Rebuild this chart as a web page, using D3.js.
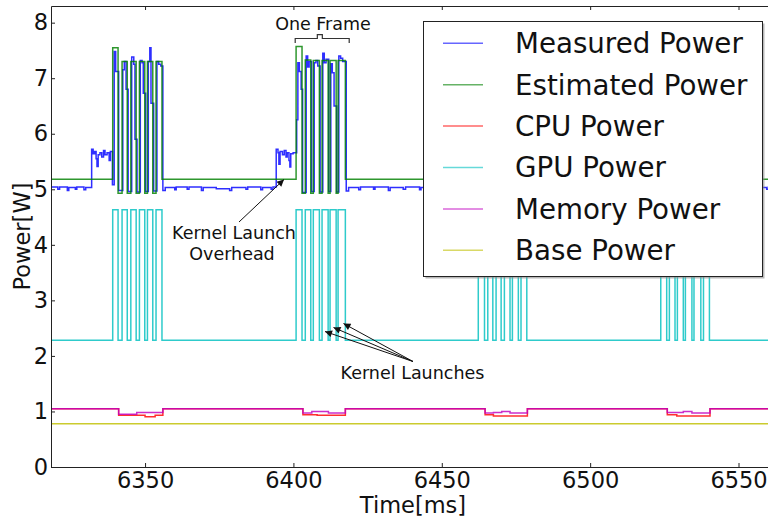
<!DOCTYPE html>
<html>
<head>
<meta charset="utf-8">
<script src="https://cdn.jsdelivr.net/npm/d3@7"></script>
<style>
  body { margin: 0; background: #fff; }
  svg { display: block; font-family: "DejaVu Sans", sans-serif; }
</style>
</head>
<body>
<div id="chart"></div>
<script>
// power trace, time in ms, power in W (step series: [time, value])
const xTicks = [6350, 6400, 6450, 6500, 6550]
const yTicks = [0, 1, 2, 3, 4, 5, 6, 7, 8]
const tStart = 6318.3
const tEnd = 6562.3

const measuredPower = [
  [6318.3, 5.04], [6320.6, 5.00], [6321.2, 5.04], [6323.8, 4.98], [6324.3, 5.03], [6326.5, 5.00],
  [6327.0, 5.04], [6329.4, 4.99], [6330.0, 5.03],
  [6332.0, 5.72], [6332.5, 5.64], [6333.0, 5.68], [6333.5, 5.55], [6333.8, 5.41], [6334.2, 5.62],
  [6334.8, 5.66], [6335.4, 5.58], [6336.0, 5.70], [6336.5, 5.62], [6337.2, 5.66], [6337.9, 5.52],
  [6338.3, 5.68], [6339.0, 5.08], [6339.6, 7.48], [6340.1, 7.12], [6341.1, 4.98],
  [6342.5, 7.15], [6343.0, 7.30], [6343.6, 6.80], [6344.3, 4.96],
  [6345.5, 7.38], [6346.2, 7.25], [6346.6, 5.90], [6347.3, 4.95],
  [6348.4, 7.32], [6349.0, 7.28], [6349.4, 6.73], [6350.2, 4.96],
  [6351.1, 7.30], [6351.6, 7.55], [6352.0, 6.55], [6352.9, 4.97],
  [6354.0, 7.30], [6354.6, 7.25], [6355.3, 7.22], [6356.0, 4.98],
  [6356.8, 5.03], [6360.0, 4.99], [6360.5, 5.04], [6364.2, 5.00], [6364.8, 5.04], [6369.0, 4.98],
  [6369.6, 5.03], [6374.0, 5.01], [6378.5, 4.98], [6379.2, 5.03], [6384.0, 5.00], [6384.6, 5.04],
  [6389.0, 4.99], [6389.6, 5.03], [6392.5, 5.00], [6393.1, 5.04],
  [6394.2, 5.72], [6394.8, 5.66], [6395.1, 5.45], [6395.5, 5.68], [6396.3, 5.62], [6396.9, 5.70],
  [6397.5, 5.58], [6397.9, 5.66], [6398.5, 5.52], [6398.8, 5.40], [6399.1, 5.64], [6399.9, 5.66],
  [6401.1, 6.25], [6401.5, 7.28], [6402.0, 7.12], [6402.6, 6.80], [6403.1, 4.94],
  [6404.3, 7.40], [6404.8, 7.20], [6405.3, 7.30], [6406.1, 4.96],
  [6407.0, 7.28], [6407.6, 7.32], [6408.2, 7.22], [6409.0, 4.95],
  [6409.9, 7.45], [6410.4, 7.28], [6411.0, 7.34], [6411.9, 4.96],
  [6412.6, 7.26], [6413.1, 7.10], [6413.7, 6.50], [6414.6, 4.95],
  [6415.3, 7.40], [6415.9, 7.36], [6416.6, 7.30], [6417.8, 4.97],
  [6418.6, 5.03], [6422.0, 4.99], [6422.6, 5.04], [6427.0, 5.00], [6427.5, 5.04], [6432.0, 4.98],
  [6432.6, 5.03], [6437.0, 5.00], [6437.8, 5.04], [6442.5, 4.99], [6443.0, 5.03], [6448.0, 5.00],
  [6448.6, 5.04], [6453.0, 4.99], [6453.6, 5.03],
  [6456.0, 5.70], [6457.2, 5.60], [6458.4, 5.66], [6459.6, 5.48], [6460.2, 5.64], [6461.4, 5.60],
  [6462.6, 7.45], [6463.2, 7.15], [6464.7, 4.96], [6465.8, 7.30], [6466.6, 6.90], [6467.5, 4.95],
  [6468.6, 7.35], [6469.4, 7.20], [6470.3, 4.96], [6471.4, 7.40], [6472.2, 7.25], [6473.3, 4.95],
  [6474.1, 7.30], [6475.0, 6.70], [6476.1, 4.96], [6477.0, 7.35], [6477.8, 7.28], [6478.9, 4.97],
  [6479.8, 5.03], [6484.0, 4.99], [6484.6, 5.04], [6490.0, 5.00], [6490.7, 5.04], [6496.0, 4.98],
  [6496.6, 5.03], [6502.0, 5.00], [6502.6, 5.04], [6508.0, 4.99], [6508.7, 5.03], [6514.0, 5.00],
  [6514.6, 5.04],
  [6517.6, 5.70], [6518.8, 5.62], [6520.0, 5.68], [6521.2, 5.45], [6521.8, 5.64], [6523.0, 5.60],
  [6524.1, 7.50], [6524.7, 7.12], [6526.1, 4.96], [6527.0, 7.28], [6527.8, 6.85], [6528.9, 4.95],
  [6529.7, 7.38], [6530.5, 7.22], [6531.7, 4.96], [6532.4, 7.42], [6533.3, 7.26], [6534.6, 4.95],
  [6535.3, 7.30], [6536.2, 6.60], [6537.6, 4.96], [6538.5, 7.36], [6539.3, 7.28], [6540.5, 4.97],
  [6541.3, 5.03], [6545.0, 4.99], [6545.6, 5.04], [6550.0, 5.00], [6550.6, 5.04], [6555.0, 4.98],
  [6555.7, 5.03], [6559.5, 5.00], [6560.1, 5.04]
]

const estimatedPower = [
  [6318.3, 5.18],
  [6339.1, 7.55], [6340.9, 4.93], [6342.25, 7.30], [6344.0, 4.93], [6345.2, 7.30], [6347.0, 4.93],
  [6348.1, 7.30], [6349.9, 4.93], [6350.8, 7.30], [6352.6, 4.93], [6353.7, 7.30], [6355.7, 5.18],
  [6400.9, 7.57], [6402.9, 4.93], [6404.0, 7.33], [6405.85, 4.93], [6406.7, 7.32], [6408.75, 4.93],
  [6409.65, 7.32], [6411.7, 4.93], [6412.35, 7.32], [6414.4, 4.93], [6415.05, 7.32], [6417.5, 5.18],
  [6462.3, 7.55], [6464.4, 4.93], [6465.5, 7.30], [6467.2, 4.93], [6468.3, 7.30], [6470.0, 4.93],
  [6471.1, 7.30], [6473.0, 4.93], [6473.8, 7.30], [6475.8, 4.93], [6476.7, 7.30], [6478.65, 5.18],
  [6523.8, 7.55], [6525.8, 4.93], [6526.7, 7.30], [6528.6, 4.93], [6529.4, 7.30], [6531.4, 4.93],
  [6532.1, 7.30], [6534.3, 4.93], [6535.0, 7.30], [6537.3, 4.93], [6538.2, 7.30], [6540.2, 5.18]
]

const cpuPower = [
  [6318.3, 1.05], [6341.1, 0.93], [6350.0, 0.905], [6353.4, 0.93], [6356.0, 1.05],
  [6403.2, 0.94], [6408.0, 0.93], [6417.5, 1.05],
  [6464.6, 0.94], [6467.4, 0.92], [6478.85, 1.05],
  [6526.0, 0.94], [6529.2, 0.92], [6540.4, 1.05]
]

const gpuPower = [
  [6318.3, 2.28],
  [6339.1, 4.63], [6340.9, 2.28], [6342.25, 4.63], [6344.0, 2.28], [6345.2, 4.63], [6347.0, 2.28],
  [6348.1, 4.63], [6349.9, 2.28], [6350.8, 4.63], [6352.6, 2.28], [6353.7, 4.63], [6355.7, 2.28],
  [6400.9, 4.63], [6402.9, 2.28], [6404.0, 4.63], [6405.85, 2.28], [6406.7, 4.63], [6408.75, 2.28],
  [6409.65, 4.63], [6411.7, 2.28], [6412.35, 4.63], [6414.4, 2.28], [6415.05, 4.63], [6417.5, 2.28],
  [6462.3, 4.63], [6464.4, 2.28], [6465.5, 4.63], [6467.2, 2.28], [6468.3, 4.63], [6470.0, 2.28],
  [6471.1, 4.63], [6473.0, 2.28], [6473.8, 4.63], [6475.8, 2.28], [6476.7, 4.63], [6478.65, 2.28],
  [6523.8, 4.63], [6525.8, 2.28], [6526.7, 4.63], [6528.6, 2.28], [6529.4, 4.63], [6531.4, 2.28],
  [6532.1, 4.63], [6534.3, 2.28], [6535.0, 4.63], [6537.3, 2.28], [6538.2, 4.63], [6540.2, 2.28]
]

const memoryPower = [
  [6318.3, 1.05], [6341.1, 0.95], [6347.2, 0.98], [6356.0, 1.05],
  [6403.2, 0.97], [6406.2, 1.00], [6411.8, 0.97], [6417.5, 1.05],
  [6464.6, 0.97], [6467.4, 0.98], [6470.2, 1.00], [6473.0, 0.97], [6478.85, 1.05],
  [6526.0, 0.98], [6531.4, 1.00], [6534.3, 0.97], [6540.4, 1.05]
]

const basePower = [[6318.3, 0.78]]

const seriesNames = ["Measured Power", "Estimated Power", "CPU Power", "GPU Power", "Memory Power", "Base Power"]
const seriesData = [measuredPower, estimatedPower, cpuPower, gpuPower, memoryPower, basePower]
const seriesColors = ["#0000ff", "#008000", "#ff0000", "#00bfbf", "#bf00bf", "#bfbf00"]

const W = 768, H = 521
const plotLeft = 51, plotTop = 6, plotRight = 775, plotBottom = 467

const svg = d3.select("#chart").append("svg")
  .attr("width", W)
  .attr("height", H)

const x = d3.scaleLinear().domain([tStart, tEnd]).range([plotLeft, plotRight])
const y = d3.scaleLinear().domain([0, 8.3]).range([plotBottom, plotTop])

const defs = svg.append("defs")
defs.append("clipPath").attr("id", "plotclip")
  .append("rect")
  .attr("x", plotLeft).attr("y", plotTop)
  .attr("width", plotRight - plotLeft).attr("height", plotBottom - plotTop)

//step lines
const line = d3.line()
  .x(d => x(d[0]))
  .y(d => y(d[1]))
  .curve(d3.curveStepAfter)

const plot = svg.append("g").attr("clip-path", "url(#plotclip)")
seriesData.forEach(function (data, i) {
  //hold last value to the end of the window
  var pts = data.concat([[tEnd, data[data.length - 1][1]]])
  plot.append("path")
    .attr("d", line(pts))
    .attr("fill", "none")
    .attr("stroke", seriesColors[i])
    .attr("stroke-width", 1.5)
    .attr("stroke-opacity", 0.82)
})

//axes, matplotlib style ticks pointing inside
const fontSize = 22.5
svg.append("g")
  .attr("transform", "translate(0," + plotBottom + ")")
  .call(d3.axisBottom(x).tickValues(xTicks).tickFormat(d3.format("d"))
    .tickSizeInner(-4).tickSizeOuter(0).tickPadding(5))
svg.append("g")
  .attr("transform", "translate(0," + plotTop + ")")
  .call(d3.axisTop(x).tickValues(xTicks).tickSizeInner(-4).tickSizeOuter(0).tickFormat(""))
svg.append("g")
  .attr("transform", "translate(" + plotLeft + ",0)")
  .call(d3.axisLeft(y).tickValues(yTicks).tickFormat(d3.format("d"))
    .tickSizeInner(-4).tickSizeOuter(0).tickPadding(3))

svg.selectAll(".domain").attr("stroke", "#222").attr("stroke-width", 1)
svg.selectAll(".tick line").attr("stroke", "#222")
svg.selectAll(".tick text")
  .attr("font-family", "DejaVu Sans")
  .attr("font-size", fontSize)
  .attr("fill", "#111")

svg.append("text")
  .attr("x", (plotLeft + plotRight) / 2)
  .attr("y", 513)
  .attr("text-anchor", "middle")
  .attr("font-size", fontSize)
  .attr("fill", "#111")
  .text("Time[ms]")

svg.append("text")
  .attr("transform", "translate(30," + ((plotTop + plotBottom) / 2) + ") rotate(-90)")
  .attr("text-anchor", "middle")
  .attr("font-size", fontSize)
  .attr("fill", "#111")
  .text("Power[W]")

//annotations
const noteSize = 17.5
defs.append("marker")
  .attr("id", "head")
  .attr("viewBox", "0 0 10 10")
  .attr("refX", 10).attr("refY", 5)
  .attr("markerWidth", 9).attr("markerHeight", 7)
  .attr("markerUnits", "userSpaceOnUse")
  .attr("orient", "auto")
  .append("path")
  .attr("d", "M0,0 L10,5 L0,10 z")
  .attr("fill", "#111")

svg.append("text")
  .attr("x", 323).attr("y", 29.5)
  .attr("text-anchor", "middle")
  .attr("font-size", noteSize)
  .attr("fill", "#111")
  .text("One Frame")

//bracket over one frame
svg.append("path")
  .attr("d", "M" + x(6400.6) + ",43 V38.5 H" + (x(6408.9) - 2.5) + " V34.7 H" + (x(6408.9) + 2.5) + " V38.5 H" + x(6418.8) + " V43")
  .attr("fill", "none")
  .attr("stroke", "#333")
  .attr("stroke-width", 1.2)

const overhead = svg.append("text")
  .attr("text-anchor", "middle")
  .attr("font-size", noteSize)
  .attr("fill", "#111")
overhead.append("tspan").attr("x", 234).attr("y", 238.5).text("Kernel Launch")
overhead.append("tspan").attr("x", 232).attr("y", 259.5).text("Overhead")

svg.append("line")
  .attr("x1", 239).attr("y1", 222)
  .attr("x2", 284).attr("y2", 179.5)
  .attr("stroke", "#111").attr("stroke-width", 1)
  .attr("marker-end", "url(#head)")

svg.append("text")
  .attr("x", 412.5).attr("y", 378.5)
  .attr("text-anchor", "middle")
  .attr("font-size", noteSize)
  .attr("fill", "#111")
  .text("Kernel Launches")

const launchTips = [[325, 331.5], [333.5, 327.5], [343.5, 323.5]]
launchTips.forEach(function (p) {
  svg.append("line")
    .attr("x1", 413).attr("y1", 361.5)
    .attr("x2", p[0]).attr("y2", p[1])
    .attr("stroke", "#111").attr("stroke-width", 1)
    .attr("marker-end", "url(#head)")
})

//legend with shadow
const lg = svg.append("g")
const lx = 423.5, ly = 21.5, lw = 339, lh = 255
lg.append("rect")
  .attr("x", lx + 2).attr("y", ly + 2)
  .attr("width", lw).attr("height", lh)
  .attr("fill", "#888").attr("fill-opacity", 0.6)
lg.append("rect")
  .attr("x", lx).attr("y", ly)
  .attr("width", lw).attr("height", lh)
  .attr("fill", "#fff")
  .attr("stroke", "#222").attr("stroke-width", 1)

seriesNames.forEach(function (name, i) {
  var yy = 43.3 + i * 41.4
  lg.append("line")
    .attr("x1", 443).attr("x2", 483)
    .attr("y1", yy).attr("y2", yy)
    .attr("stroke", seriesColors[i])
    .attr("stroke-width", 1.5)
    .attr("stroke-opacity", 0.6)
  lg.append("text")
    .attr("x", 515).attr("y", yy)
    .attr("dy", "0.36em")
    .attr("font-size", 27.7)
    .attr("fill", "#111")
    .text(name)
})
</script>
</body>
</html>
